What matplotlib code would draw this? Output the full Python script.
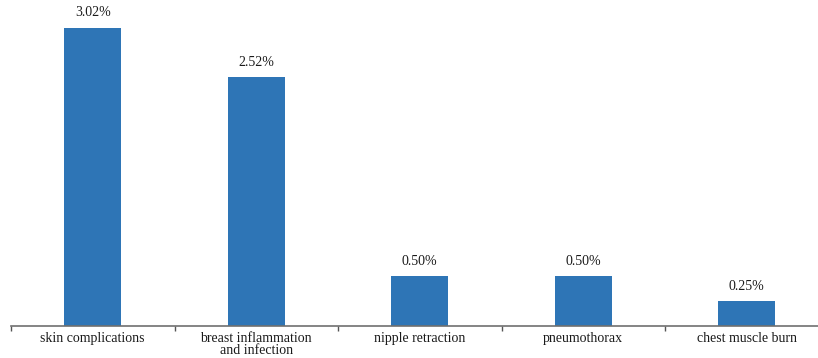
import matplotlib.pyplot as plt
from matplotlib.ticker import FixedLocator

categories = ['skin complications', 'breast inflammation\nand infection', 'nipple retraction',
              'pneumothorax', 'chest muscle burn']
values = [3.02, 2.52, 0.50, 0.50, 0.25]

plt.rcParams['font.family'] = ['Liberation Serif', 'DejaVu Serif']

fig = plt.figure(figsize=(8.18, 3.58), dpi=100)
ax = fig.add_axes([11 / 818, 32.3 / 358, 817.5 / 818, 325.7 / 358])

x = range(len(values))
bars = ax.bar(x, values, width=0.35, color='#2E75B6')

# подписи над столбиками
for b, v in zip(bars, values):
    ax.annotate('%.2f%%' % v, (b.get_x() + b.get_width() / 2, b.get_height()),
                xytext=(0, 6), textcoords='offset points', ha='center', va='bottom',
                fontsize=10, color='#1a1a1a')

ax.set_xlim(-0.5, len(values) - 0.5)
ax.set_ylim(0, 3.30)

ax.set_xticks(list(x))
ax.set_xticklabels(categories, fontsize=10, color='#1a1a1a', linespacing=0.88)
ax.xaxis.set_minor_locator(FixedLocator([i - 0.5 for i in range(len(values) + 1)]))
ax.tick_params(axis='x', which='major', length=0, pad=4.5)
ax.tick_params(axis='x', which='minor', length=3.5, width=1, color='#555555', direction='out')

ax.set_yticks([])
for s in ['left', 'right', 'top']:
    ax.spines[s].set_visible(False)
ax.spines['bottom'].set_color('#6f6f6f')
ax.spines['bottom'].set_linewidth(1.2)

fig.savefig('out.png', dpi=100)
